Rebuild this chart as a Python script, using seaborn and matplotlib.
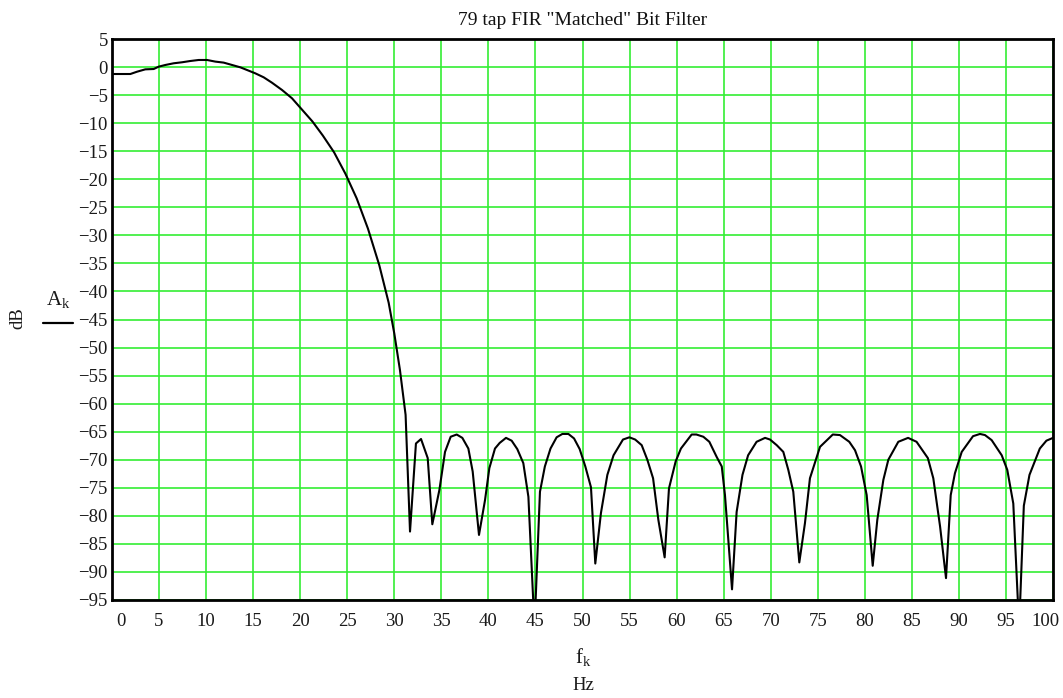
import matplotlib
matplotlib.use("Agg")
import matplotlib.pyplot as plt
import matplotlib.transforms as mtransforms
from matplotlib.lines import Line2D
import seaborn as sns
import pandas as pd

# ---- data ----
freq_hz = [0.0, 1.95, 2.66, 3.54, 4.43, 4.96, 5.67, 6.55, 7.44, 8.33, 9.21, 10.1,
           10.98, 11.87, 12.75, 13.64, 14.52, 15.23, 16.12, 17.0, 18.07, 19.13,
           20.2, 21.3, 22.4, 23.6, 24.8, 26.0, 27.2, 28.4, 29.4,
           30.0, 30.6, 31.2, 31.67, 32.3, 32.84, 33.55, 34.04, 34.79, 35.39,
           35.99, 36.63, 37.23, 37.87, 38.33, 39.0, 39.64, 40.1, 40.7, 41.2,
           41.87, 42.47, 43.07, 43.71, 44.25, 44.9, 45.48, 46.0, 46.6, 47.25,
           47.86, 48.5, 49.1, 49.7, 50.3, 50.9, 51.36, 51.96, 52.64, 53.3, 54.3,
           54.98, 55.6, 56.29, 56.89, 57.5, 58.06, 58.73, 59.19, 59.9, 60.46,
           61.6, 62.1, 62.84, 63.48, 64.26, 64.8, 65.14, 65.89, 66.38, 67.0,
           67.6, 68.5, 69.4, 69.93, 70.64, 71.34, 71.87, 72.4, 73.04, 73.64,
           74.17, 75.24, 76.6, 77.36, 78.35, 78.96, 79.6, 80.2, 80.84, 81.33,
           81.97, 82.5, 83.56, 84.6, 85.5, 86.7, 87.28, 88.0, 88.63, 89.13,
           89.58, 90.3, 91.5, 92.24, 92.77, 93.48, 94.55, 95.14, 95.78, 96.4,
           96.9, 97.5, 98.6, 99.3, 100.0]
level_db = [-1.24, -1.24, -0.83, -0.41, -0.35, 0.07, 0.37, 0.67, 0.85, 1.08, 1.26, 1.26,
            0.97, 0.79, 0.37, -0.05, -0.65, -1.12, -1.83, -2.79, -4.09, -5.57,
            -7.6, -9.7, -12.2, -15.2, -19.0, -23.4, -28.8, -35.3, -42.0,
            -47.5, -54.0, -62.0, -82.8, -67.1, -66.3, -69.7, -81.5, -75.4, -68.6,
            -65.9, -65.5, -66.1, -68.0, -72.1, -83.4, -77.2, -71.5, -68.0, -67.0,
            -66.1, -66.6, -68.1, -70.6, -76.6, -100.0, -75.7, -71.2, -68.0, -66.0,
            -65.4, -65.4, -66.2, -68.1, -71.2, -74.9, -88.5, -79.5, -72.7, -69.2, -66.4,
            -66.0, -66.4, -67.4, -70.0, -73.3, -80.7, -87.4, -75.1, -70.3, -68.0,
            -65.5, -65.5, -65.9, -66.8, -69.5, -71.2, -76.3, -93.1, -79.3, -72.7,
            -69.2, -66.8, -66.1, -66.4, -67.4, -68.6, -71.8, -75.7, -88.3, -81.3,
            -73.3, -67.7, -65.5, -65.6, -66.8, -68.3, -71.2, -76.3, -88.9, -80.7,
            -73.6, -70.0, -66.8, -66.1, -66.8, -69.7, -73.3, -81.9, -91.1, -76.3,
            -72.4, -68.6, -65.8, -65.4, -65.6, -66.5, -69.2, -71.8, -77.8, -100.0,
            -78.2, -72.7, -68.0, -66.6, -66.1]
x_ticks = list(range(0, 101, 5))
y_ticks = list(range(-95, 6, 5))
title_text = '79 tap FIR "Matched" Bit Filter'

df = pd.DataFrame({"f": freq_hz, "A": level_db})

sns.set_style("white")
plt.rcParams["font.family"] = ["Liberation Serif", "DejaVu Serif"]
plt.rcParams["mathtext.fontset"] = "custom"
plt.rcParams["mathtext.rm"] = "Liberation Serif"
plt.rcParams["mathtext.it"] = "Liberation Serif"

W, H = 1063, 698
fig = plt.figure(figsize=(W / 100, H / 100), dpi=100)
ax = fig.add_axes([112 / W, 1 - 600 / H, (1053 - 112) / W, (600 - 39) / H])

sns.lineplot(data=df, x="f", y="A", ax=ax, color="black", lw=1.5,
             estimator=None, sort=False, zorder=3)

ax.set_xlim(0, 100)
ax.set_ylim(-95, 5)
ax.set_xticks(x_ticks)
ax.set_yticks(y_ticks)
ax.set_xticklabels([str(v) for v in x_ticks])
ax.set_yticklabels([("\u2212" + str(-v)) if v < 0 else str(v) for v in y_ticks])
ax.grid(True, color="#33ee33", lw=1.2, zorder=0)
ax.set_axisbelow(True)
for s in ax.spines.values():
    s.set_color("black")
    s.set_linewidth(2)
ax.tick_params(axis="both", length=0, labelsize=13.5, colors="#1a1a1a")
ax.tick_params(axis="x", pad=9)
ax.tick_params(axis="y", pad=3)
ax.set_xlabel("")
ax.set_ylabel("")

# shift end tick labels like the reference
lbls = ax.get_xticklabels()
lbls[0].set_transform(lbls[0].get_transform() +
                      mtransforms.ScaledTranslation(9 / 100, 0, fig.dpi_scale_trans))
lbls[-1].set_transform(lbls[-1].get_transform() +
                       mtransforms.ScaledTranslation(-8 / 100, 0, fig.dpi_scale_trans))

ax.set_title(title_text, fontsize=14, pad=10, color="#111111")

# y axis label: dB and A_k over a bar
fig.text(18 / W, 1 - 318 / H, "dB", rotation=90, ha="center", va="center",
         fontsize=13.5, color="#1a1a1a")
fig.text(58 / W, 1 - 300 / H, r"$\mathrm{A}_{\mathrm{k}}$", ha="center", va="center",
         fontsize=15, color="#1a1a1a")
fig.add_artist(Line2D([43 / W, 73 / W], [1 - 323 / H, 1 - 323 / H],
                      transform=fig.transFigure, color="black", lw=1.6))

# x axis label: f_k and Hz
fig.text(583 / W, 1 - 657 / H, r"$\mathrm{f}_{\mathrm{k}}$", ha="center", va="center",
         fontsize=15, color="#1a1a1a")
fig.text(583 / W, 1 - 686 / H, "Hz", ha="center", va="center",
         fontsize=13.5, color="#1a1a1a")

fig.savefig("out.png", dpi=100)
